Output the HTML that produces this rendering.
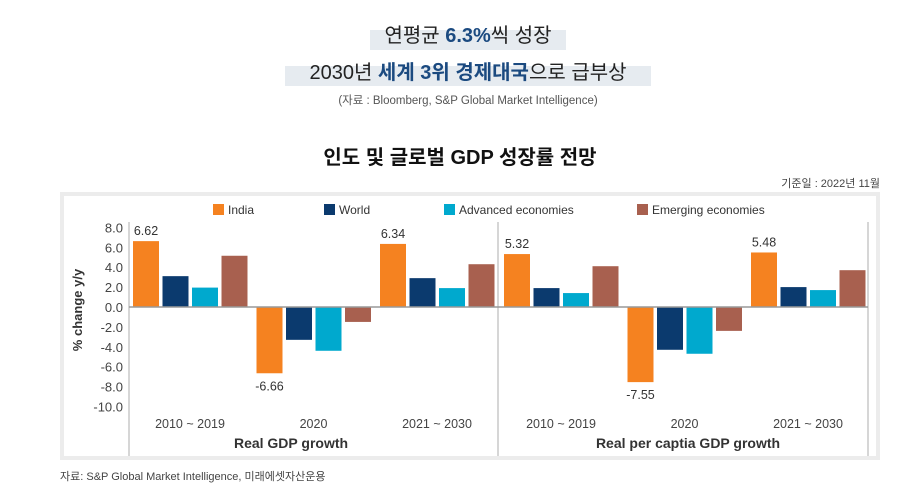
<!DOCTYPE html>
<html><head><meta charset="utf-8">
<style>
html,body{margin:0;padding:0;background:#fff;}
body{width:916px;height:493px;overflow:hidden;font-family:"Liberation Sans","Noto Sans CJK KR",sans-serif;}
svg text{font-family:"Liberation Sans","Noto Sans CJK KR",sans-serif;}
</style></head>
<body>
<svg id="chart" width="916" height="493" viewBox="0 0 916 493" xmlns="http://www.w3.org/2000/svg">
  <rect x="370" y="30" width="196" height="20" fill="#e6ebf0"/>
  <rect x="285" y="66" width="366" height="20" fill="#e6ebf0"/>
  <text x="468" y="42" text-anchor="middle" font-size="20" fill="#222">연평균 <tspan font-weight="bold" fill="#1b4a80">6.3%</tspan>씩 성장</text>
  <text x="468" y="79" text-anchor="middle" font-size="20" fill="#222">2030년 <tspan font-weight="bold" fill="#1b4a80">세계 3위 경제대국</tspan>으로 급부상</text>
  <text x="468" y="104" text-anchor="middle" font-size="11.5" fill="#555">(자료 : Bloomberg, S&amp;P Global Market Intelligence)</text>
  <text x="460" y="164" text-anchor="middle" font-size="20" font-weight="bold" fill="#111">인도 및 글로벌 GDP 성장률 전망</text>
  <text x="880" y="187" text-anchor="end" font-size="11" fill="#444">기준일 : 2022년 11월</text>
  <rect x="62" y="194" width="816" height="264" fill="#fff" stroke="#ececec" stroke-width="4"/>
  <g id="plot"></g>
  <text x="60" y="480" font-size="11" fill="#444">자료: S&amp;P Global Market Intelligence, 미래에셋자산운용</text>
</svg>
<script>
const categories = ["2010 ~ 2019", "2020", "2021 ~ 2030"];
const seriesNames = ["India", "World", "Advanced economies", "Emerging economies"];
const gdpIndia = [6.62, -6.66, 6.34];
const gdpWorld = [3.1, -3.3, 2.9];
const gdpAdvanced = [1.95, -4.4, 1.9];
const gdpEmerging = [5.15, -1.5, 4.3];
const pcIndia = [5.32, -7.55, 5.48];
const pcWorld = [1.9, -4.3, 2.0];
const pcAdvanced = [1.4, -4.7, 1.7];
const pcEmerging = [4.1, -2.4, 3.7];
const yTicks = [8, 6, 4, 2, 0, -2, -4, -6, -8, -10];
const panelTitles = ["Real GDP growth", "Real per captia GDP growth"];

const colors = ["#f58220", "#0b3a6e", "#00a9ce", "#a8604f"];
const NS = "http://www.w3.org/2000/svg";
const g = document.getElementById("plot");
function y(v){ return 307 - v * 9.95; }
function mk(tag, attrs, text){
  const e = document.createElementNS(NS, tag);
  for (const k in attrs) e.setAttribute(k, attrs[k]);
  if (text !== undefined) e.textContent = text;
  g.appendChild(e);
  return e;
}
// legend
const legX = [213, 324, 444, 637];
seriesNames.forEach((n, i) => {
  const r = mk("rect", {x: legX[i], y: 204, width: 11, height: 11, fill: colors[i]});
  
  
  const t = mk("text", {x: legX[i] + 15, y: 214, "font-size": 12, fill: "#333"}, n);
  
  
});
// y ticks
yTicks.forEach(v => {
  const t = mk("text", {x: 123, y: y(v) + 5, "text-anchor": "end", "font-size": 13, fill: "#444"}, v.toFixed(1));
  
  
});
const yt = mk("text", {x: 0, y: 0, transform: "translate(82,310) rotate(-90)", "text-anchor": "middle", "font-size": 13, "font-weight": "bold", fill: "#333"}, "% change y/y");


// axes
[[129,"y-axis-line"],[498,"panel-divider"],[868,"right-axis-line"]].forEach(([x,n]) => {
  const l = mk("line", {x1: x, x2: x, y1: 222, y2: 456, stroke: "#bbb", "stroke-width": 1.2});
  
  
});
const panels = [[gdpIndia, gdpWorld, gdpAdvanced, gdpEmerging], [pcIndia, pcWorld, pcAdvanced, pcEmerging]];
panels.forEach((series, p) => {
  const x0 = 133 + p * 371;
  categories.forEach((c, ci) => {
    const gx = x0 + ci * 123.5;
    series.forEach((arr, si) => {
      const v = arr[ci];
      const bx = gx + si * 29.5;
      const r = mk("rect", {x: bx, y: Math.min(y(v), y(0)), width: 26, height: Math.abs(y(v) - y(0)), fill: colors[si]});
      
      
      if (si === 0) {
        const ly = v >= 0 ? y(v) - 6 : y(v) + 17;
        const t = mk("text", {x: bx + 13, y: ly, "text-anchor": "middle", "font-size": 12.5, fill: "#333"}, v.toFixed(2));
        
        
      }
    });
    const ct = mk("text", {x: gx + 57, y: 428, "text-anchor": "middle", "font-size": 12.5, fill: "#444"}, c);
    
    
  });
  const pt = mk("text", {x: p === 0 ? 291 : 688, y: 448, "text-anchor": "middle", "font-size": 14, "font-weight": "bold", fill: "#333"}, panelTitles[p]);
  
  
});
const z = mk("line", {x1: 129, x2: 868, y1: y(0), y2: y(0), stroke: "#999", "stroke-width": 1.5});


</script>
</body></html>
